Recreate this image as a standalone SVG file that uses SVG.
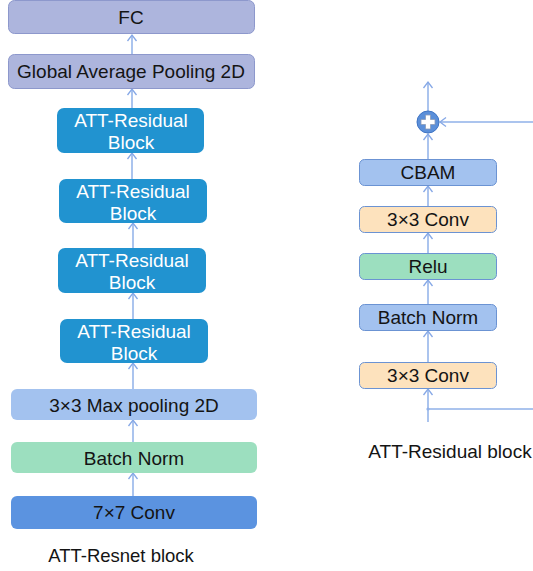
<svg xmlns="http://www.w3.org/2000/svg" width="533" height="571" viewBox="0 0 533 571">
<defs>
<marker id="ah" markerWidth="12" markerHeight="12" refX="7.5" refY="6" orient="auto" markerUnits="userSpaceOnUse" viewBox="0 0 12 12">
<path d="M1.5,1.5 L7.5,6 L1.5,10.5" fill="none" stroke="#86a8e6" stroke-width="1.3"/>
</marker>
<style>
text{font-family:"Liberation Sans",Arial,sans-serif;font-size:19px;fill:#141414;text-anchor:middle}
.w{fill:#ffffff}
.cap{font-size:18.5px}
.cap2{font-size:19px}
.gap{fill:#adb5dd;stroke:#8d98cc;stroke-width:1}
.att{fill:#2193d0}
.mp{fill:#a3c2ef}
.bn{fill:#9cdfbf}
.c7{fill:#5b93e0}
.rb{stroke:#6b93d3;stroke-width:1}
.cbam{fill:#a3c2ef}
.conv{fill:#fde2bd}
.relu{fill:#9cdfbf}
.ln{stroke:#8fb0e8;stroke-width:1.5;fill:none}
</style>
</defs>
<g id="connectors">
<line class="ln" x1="132" y1="54" x2="132" y2="35" marker-end="url(#ah)"/>
<line class="ln" x1="132" y1="108" x2="132" y2="89" marker-end="url(#ah)"/>
<line class="ln" x1="132" y1="179" x2="132" y2="153" marker-end="url(#ah)"/>
<line class="ln" x1="133" y1="248" x2="133" y2="223" marker-end="url(#ah)"/>
<line class="ln" x1="133" y1="319" x2="133" y2="293" marker-end="url(#ah)"/>
<line class="ln" x1="133" y1="389" x2="133" y2="363" marker-end="url(#ah)"/>
<line class="ln" x1="133" y1="442" x2="133" y2="420" marker-end="url(#ah)"/>
<line class="ln" x1="133" y1="496" x2="133" y2="473" marker-end="url(#ah)"/>
<line class="ln" x1="428" y1="111" x2="428" y2="82" marker-end="url(#ah)"/>
<line class="ln" x1="533" y1="122" x2="440" y2="122" marker-end="url(#ah)"/>
<line class="ln" x1="428" y1="159" x2="428" y2="134" marker-end="url(#ah)"/>
<line class="ln" x1="428" y1="206" x2="428" y2="186" marker-end="url(#ah)"/>
<line class="ln" x1="428" y1="253" x2="428" y2="233" marker-end="url(#ah)"/>
<line class="ln" x1="428" y1="305" x2="428" y2="280" marker-end="url(#ah)"/>
<line class="ln" x1="428" y1="362" x2="428" y2="331" marker-end="url(#ah)"/>
<line class="ln" x1="428" y1="422" x2="428" y2="389" marker-end="url(#ah)"/>
<line class="ln" x1="428" y1="409" x2="533" y2="409"/>
<circle cx="428" cy="409" r="1.6" fill="#8fb0e8"/>
</g>
<g id="fc"><rect class="gap" x="8.5" y="0.5" width="246" height="33" rx="6"/><text x="131" y="24">FC</text></g>
<g id="gap"><rect class="gap" x="8.5" y="54.5" width="246" height="34" rx="6"/><text x="131" y="78">Global Average Pooling 2D</text></g>
<g id="att1"><rect class="att" x="57" y="108" width="147" height="45" rx="7"/><text class="w" x="131" y="127">ATT-Residual</text><text class="w" x="131" y="149">Block</text></g>
<g id="att2"><rect class="att" x="59" y="179" width="148" height="44" rx="7"/><text class="w" x="133" y="198">ATT-Residual</text><text class="w" x="133" y="220">Block</text></g>
<g id="att3"><rect class="att" x="58" y="248" width="148" height="45" rx="7"/><text class="w" x="132" y="267">ATT-Residual</text><text class="w" x="132" y="289">Block</text></g>
<g id="att4"><rect class="att" x="60" y="319" width="148" height="44" rx="7"/><text class="w" x="134" y="338">ATT-Residual</text><text class="w" x="134" y="360">Block</text></g>
<g id="maxpool"><rect class="mp" x="11" y="389" width="246" height="31" rx="6"/><text x="134" y="412">3×3 Max pooling 2D</text></g>
<g id="bn1"><rect class="bn" x="11" y="442" width="246" height="31" rx="6"/><text x="134" y="465">Batch Norm</text></g>
<g id="conv7"><rect class="c7" x="11" y="496" width="246" height="33" rx="6"/><text x="134" y="519">7×7 Conv</text></g>
<text class="cap" x="121" y="562">ATT-Resnet block</text>
<g id="add">
<circle cx="428" cy="122" r="11" fill="#5b8fd9" stroke="#3f74c4" stroke-width="1"/>
<path d="M425.5,115 h5 v4.5 h4.5 v5 h-4.5 v4.5 h-5 v-4.5 h-4.5 v-5 h4.5 z" fill="#ffffff" stroke="#8a9ab8" stroke-width="0.8"/>
</g>
<g id="cbam"><rect class="cbam rb" x="359.5" y="159.5" width="137" height="26" rx="5"/><text x="428" y="179">CBAM</text></g>
<g id="conv2"><rect class="conv rb" x="359.5" y="206.5" width="137" height="26" rx="5"/><text x="428" y="226">3×3 Conv</text></g>
<g id="relu"><rect class="relu rb" x="359.5" y="253.5" width="137" height="26" rx="5"/><text x="428" y="273">Relu</text></g>
<g id="bn2"><rect class="cbam rb" x="359.5" y="304.5" width="137" height="26" rx="5"/><text x="428" y="324">Batch Norm</text></g>
<g id="conv1"><rect class="conv rb" x="359.5" y="362.5" width="137" height="26" rx="5"/><text x="428" y="382">3×3 Conv</text></g>
<text class="cap2" x="450" y="458">ATT-Residual block</text>
</svg>
